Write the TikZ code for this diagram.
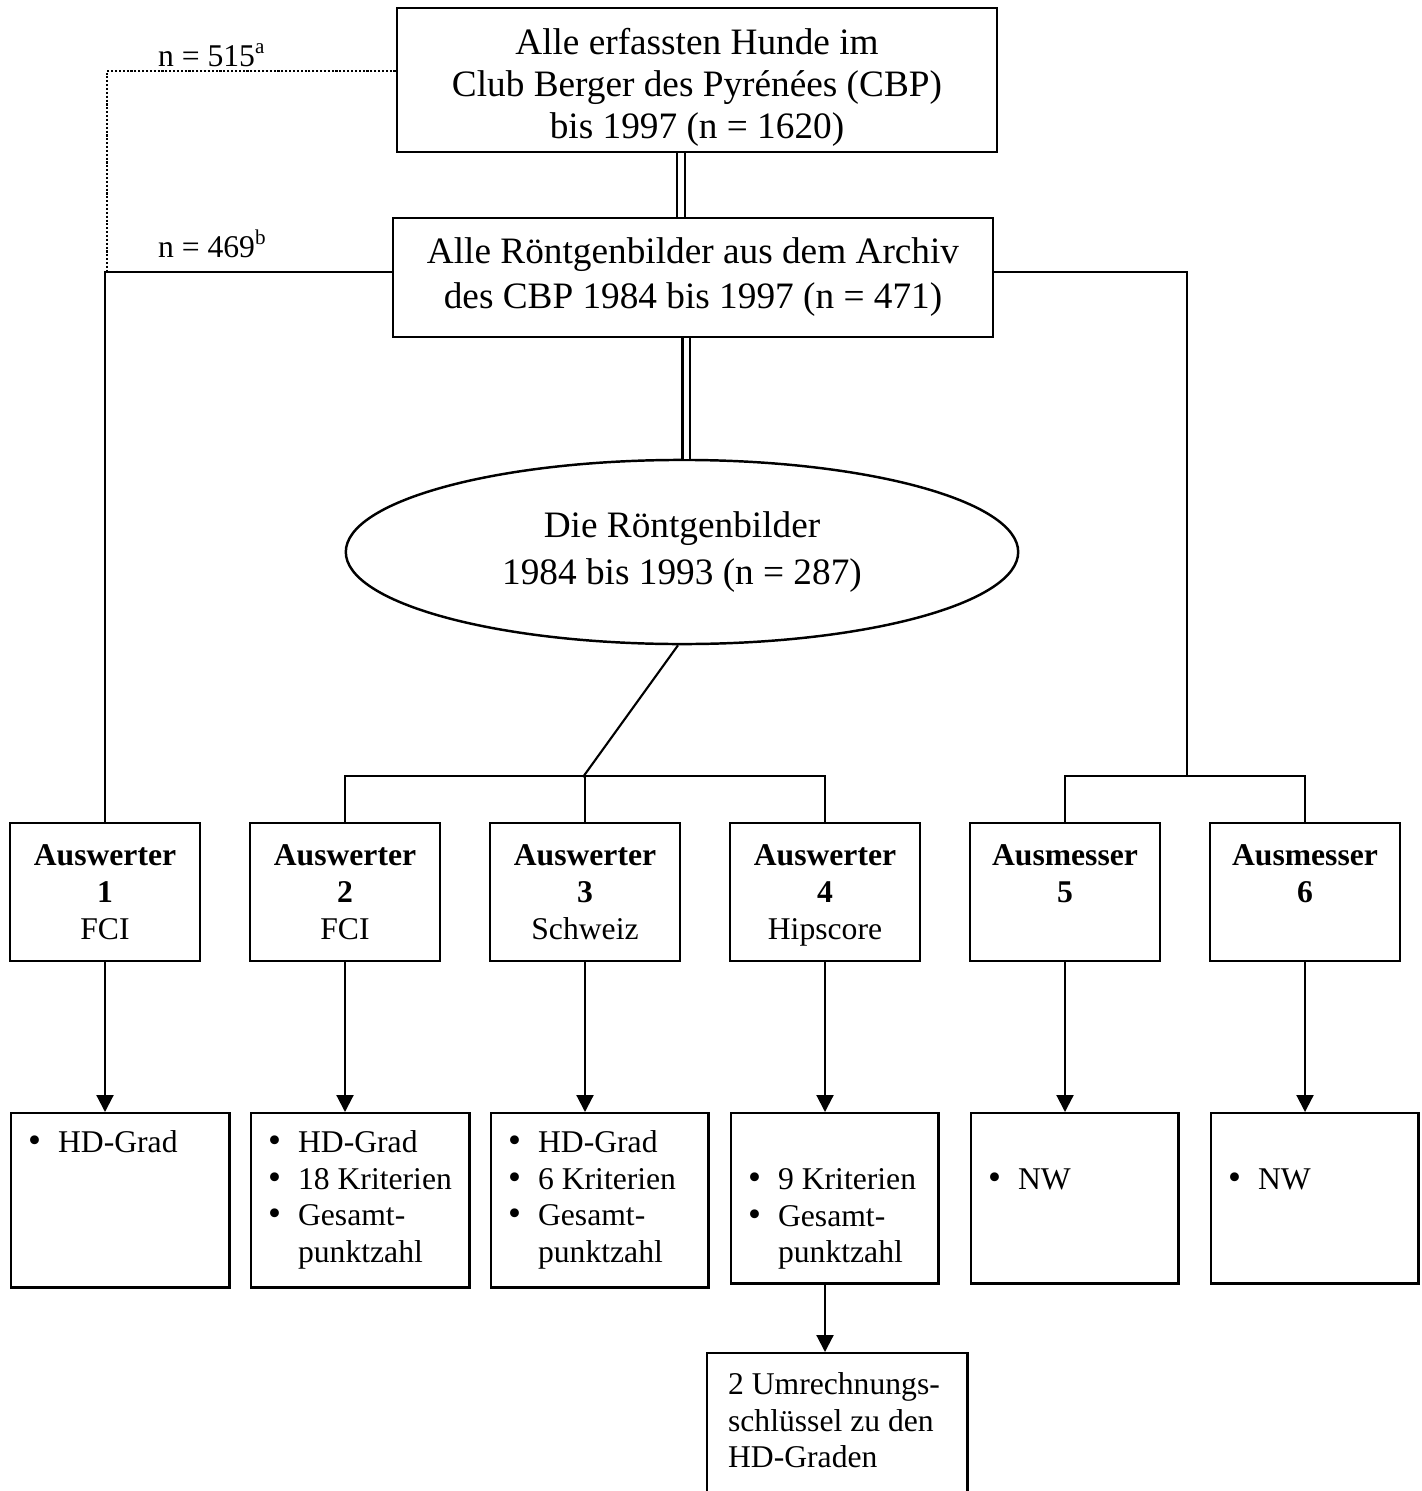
\documentclass[tikz,border=0pt]{standalone}
\usepackage{fontspec}
\setmainfont{Liberation Serif}
\usetikzlibrary{shapes.geometric,arrows.meta}
\newcommand{\blt}{\makebox[0.3cm][l]{\fontsize{10.5}{10}\selectfont •}}
\tikzset{
  kasten/.style={draw, line width=0.7pt, inner sep=0pt, align=center,
    minimum width=6cm, font=\fontsize{10.6}{12}\selectfont},
  rater/.style={draw, line width=0.7pt, inner sep=0pt, align=center,
    minimum width=1.9cm, minimum height=1.38cm, font=\fontsize{9}{10.5}\selectfont},
  ergebnis/.style={draw, line width=0.7pt, inner sep=0pt, anchor=north west},
  punkte/.style={anchor=north west, inner sep=0pt, font=\fontsize{9}{10.4}\selectfont},
  anzahl/.style={anchor=base west, inner sep=0pt, font=\fontsize{9}{10.4}\selectfont},
  dbl/.style={double, double distance=0.05cm, line width=0.6pt},
  pfeil/.style={-{Triangle[width=0.17cm,length=0.17cm]}, line width=0.6pt},
  gepunktet/.style={line width=0.6pt, dash pattern=on 0.6pt off 0.5pt}
}
\begin{document}
\begin{tikzpicture}[x=0.01cm,y=-0.01cm,line width=0.6pt]
\useasboundingbox (0,0) rectangle (1422,1491);
% Kopf
\node[kasten, minimum height=1.44cm] (alle) at (697,80)
  {\rule{0pt}{11.5pt}Alle erfassten Hunde im\\Club Berger des Pyrénées (CBP)\\bis 1997 (n = 1620)};
\node[kasten, minimum height=1.19cm, font=\fontsize{10.6}{12.8}\selectfont] (archiv) at (693,277.5)
  {Alle Röntgenbilder aus dem Archiv\\des CBP 1984 bis 1997 (n = 471)};
\node[draw, ellipse, line width=0.7pt, inner sep=0pt, minimum width=6.72cm, minimum height=1.84cm,
  align=center, font=\fontsize{10.6}{13.1}\selectfont] (auswahl) at (682,552)
  {Die Röntgenbilder\\1984 bis 1993 (n = 287)};
\draw[dbl] ([xshift=-0.16cm]alle.south) -- ([xshift=-0.16cm]alle.south |- archiv.north);
\draw[dbl] ([xshift=-0.07cm]archiv.south) -- ([xshift=-0.07cm]archiv.south |- auswahl.north);
% Auswerter
\foreach \i/\x/\wer/\zus in {1/105/Auswerter/FCI, 2/345/Auswerter/FCI, 3/585/Auswerter/Schweiz,
  4/825/Auswerter/Hipscore, 5/1065/Ausmesser/, 6/1305/Ausmesser/}
  \node[rater] (a\i) at (\x,892)
    {\textbf{\wer}\\\textbf{\i}\\\raisebox{0pt}[\height][0pt]{\zus}\vphantom{I}};
% Ergebnisse
\foreach \i/\x/\w/\h in {1/10/2.18/1.74, 2/250/2.18/1.74, 3/490/2.17/1.74,
  4/730/2.07/1.70, 5/970/2.07/1.70, 6/1210/2.07/1.70}
  \node[ergebnis, minimum width=\w cm, minimum height=\h cm] (e\i) at (\x,1112) {};
\node[punkte] (p1) at ([shift={(17,14)}]e1.north west) {\begin{tabular}{@{}l@{}}\blt HD-Grad\end{tabular}};
\node[punkte] (p2) at ([shift={(17,14)}]e2.north west)
  {\begin{tabular}{@{}l@{}}\blt HD-Grad\\\blt 18 Kriterien\\\blt Gesamt-\\\hspace*{0.3cm}punktzahl\end{tabular}};
\node[punkte] (p3) at ([shift={(17,14)}]e3.north west)
  {\begin{tabular}{@{}l@{}}\blt HD-Grad\\\blt 6 Kriterien\\\blt Gesamt-\\\hspace*{0.3cm}punktzahl\end{tabular}};
\node[punkte] (p4) at ([shift={(17,51)}]e4.north west)
  {\begin{tabular}{@{}l@{}}\blt 9 Kriterien\\\blt Gesamt-\\\hspace*{0.3cm}punktzahl\end{tabular}};
\node[punkte] (p5) at ([shift={(17,51)}]e5.north west) {\begin{tabular}{@{}l@{}}\blt NW\end{tabular}};
\node[punkte] (p6) at ([shift={(17,51)}]e6.north west) {\begin{tabular}{@{}l@{}}\blt NW\end{tabular}};
\node[ergebnis, minimum width=2.6cm, minimum height=2cm] (umr) at (706,1352) {};
\node[punkte] (pu) at ([shift={(21,16)}]umr.north west)
  {\begin{tabular}{@{}l@{}}2 Umrechnungs-\\schlüssel zu den\\HD-Graden\end{tabular}};
\foreach \i in {1,...,6}
  \draw[pfeil] (a\i.south) -- (a\i.south |- e\i.north);
\draw[pfeil] (a4.south |- e4.south) -- (a4.south |- umr.north);
% Verzweigungen
\coordinate (gabel) at (583,777);
\coordinate (rgabel) at (1187,777);
\coordinate (dotend) at (107,270);
\draw (a2.north) -- ++(0,-46) -| (a4.north);
\draw (a3.north) -- ++(0,-46);
\draw ([xshift=-0.04cm]auswahl.south) -- (gabel);
\draw (a5.north) -- ++(0,-46) -| (a6.north);
\draw ([yshift=0.055cm]archiv.east) -| (rgabel);
\draw ([yshift=0.055cm]archiv.west) -| (a1.north);
\draw[gepunktet] ([yshift=0.09cm]alle.west) -| (dotend);
\node[anzahl] (n515) at (157,67) {n = 515\textsuperscript{a}};
\node[anzahl] (n469) at (157,258) {n = 469\textsuperscript{b}};
\end{tikzpicture}
\end{document}
